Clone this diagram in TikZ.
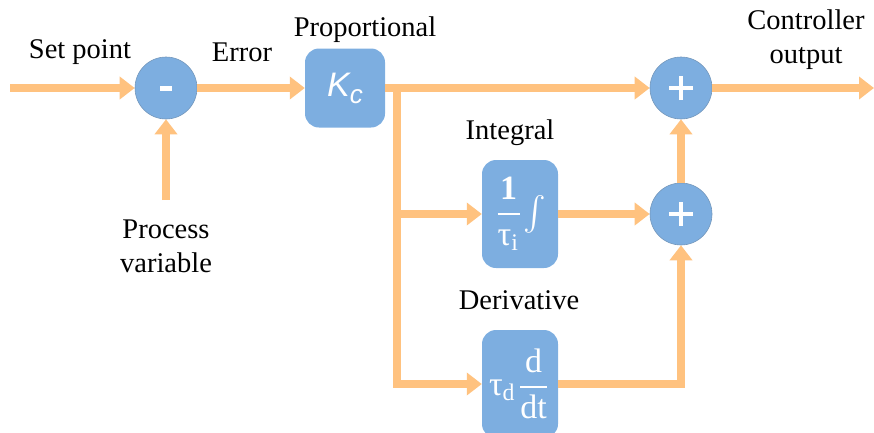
\documentclass[tikz,border=0pt]{standalone}
\usepackage{graphicx}
\usepackage{fontspec}
\setmainfont{Liberation Serif}
\newfontfamily\kfont{Liberation Sans}
\usetikzlibrary{arrows.meta}
\definecolor{orng}{HTML}{FFC27F}
\definecolor{blu}{HTML}{7DAEE0}
\begin{document}
\begin{tikzpicture}[x=1pt,y=-1pt,
 flow/.style={draw=orng,line width=8pt},
 arr/.style={flow,-{Triangle[length=15pt,width=22pt]}},
 sumc/.style={circle,fill=blu,draw=blu!80!black!90,line width=0.6pt,minimum size=62pt,inner sep=0pt},
 blk/.style={rounded corners=14pt,fill=blu,text=white,inner sep=0pt,align=center},
 lbl/.style={font=\fontsize{28.5}{34}\selectfont,align=center,inner sep=0pt},
 sign/.style={draw=white,line width=4.5pt}]
\useasboundingbox (0,0) rectangle (874,432);
% blocks
\node[sumc] (m) at (166,88) {};
\node[blk,minimum width=80pt,minimum height=79pt] (k) at (345,88)
  {\kfont\itshape\fontsize{34}{34}\selectfont K\raisebox{-7pt}{\fontsize{26}{26}\selectfont c}};
\node[sumc] (c1) at (681,88) {};
\node[sumc] (c2) at (681,214) {};
\node[blk,minimum width=76pt,minimum height=108pt] (i) at (520,214)
  {\scalebox{3.4}{$\displaystyle\frac{\mathbf{1}}{\mbox{τ}_{\mathrm{i}}}\textstyle\!\int$}};
\node[blk,minimum width=76pt,minimum height=108pt] (d) at (520,384)
  {\scalebox{3.4}{$\mbox{τ}_{\mathrm{d}}\displaystyle\frac{\mathrm{d}}{\mathrm{dt}}$}};
% signs
\fill[white] (160,85.5) rectangle (172,91);
\draw[sign] ([xshift=-12pt]c1.center) -- ([xshift=12pt]c1.center);
\draw[sign] ([yshift=-12pt]c1.center) -- ([yshift=12pt]c1.center);
\draw[sign] ([xshift=-12pt]c2.center) -- ([xshift=12pt]c2.center);
\draw[sign] ([yshift=-12pt]c2.center) -- ([yshift=12pt]c2.center);
% coordinates
\coordinate (in) at (10,88);
\coordinate (pv) at (166,200);
\coordinate (br) at (397,88);
\coordinate (bi) at (397,214);
\coordinate (out) at (874,88);
% connectors
\draw[arr] (in) -- (m.west);
\draw[arr] (pv) -- (m.south);
\draw[arr] (m.east) -- (k.west);
\draw[arr] (k.east) -- (c1.west);
\draw[arr] (br) |- (d.west);
\draw[arr] (bi) -- (i.west);
\draw[arr] (i.east) -- (c2.west);
\draw[arr] (d.east) -| (c2.south);
\draw[arr] (c2.north) -- (c1.south);
\draw[arr] (c1.east) -- (out);
% labels
\node[lbl] (l1) at (80,52) {Set point};
\node[lbl] (l2) at (242,52) {Error};
\node[lbl] (l3) at (365,30) {Proportional};
\node[lbl] (l4) at (510,133) {Integral};
\node[lbl] (l5) at (519,300) {Derivative};
\node[lbl] (l6) at (166,246) {Process\\variable};
\node[lbl] (l7) at (806,40) {Controller\\output};
\end{tikzpicture}
\end{document}
